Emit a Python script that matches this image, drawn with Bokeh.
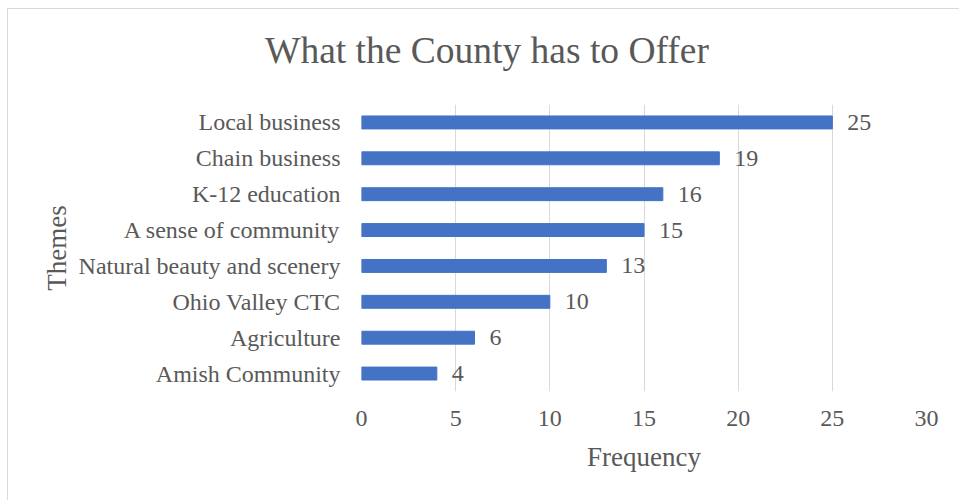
from bokeh.plotting import figure
from bokeh.models import Range1d, FactorRange, ColumnDataSource, LabelSet, FixedTicker, Div
from bokeh.layouts import column
from bokeh.embed import file_html
from bokeh.resources import INLINE

themes = ["Local business", "Chain business", "K-12 education", "A sense of community",
          "Natural beauty and scenery", "Ohio Valley CTC", "Agriculture", "Amish Community"]
frequency = [25, 19, 16, 15, 13, 10, 6, 4]
x_ticks = [0, 5, 10, 15, 20, 25, 30]
title_text = "What the County has to Offer"

FONT = "Liberation Serif"
GRAY = "#595959"

src = ColumnDataSource(dict(theme=themes, freq=frequency, lab=[str(v) for v in frequency]))

title_div = Div(
    text=(f'<div style="margin:0;padding:23px 0 0 257px;font-family:\'{FONT}\';'
          f'font-size:37.5px;line-height:1;color:{GRAY};white-space:nowrap;">{title_text}</div>'),
    width=951, height=70, margin=(0, 0, 0, 0))

p = figure(width=951, height=421, output_backend="svg", toolbar_location=None,
           y_range=FactorRange(factors=list(reversed(themes))),
           x_range=Range1d(0, 30),
           min_border_left=353, min_border_right=33, min_border_top=25, min_border_bottom=109)
p.outline_line_color = None
p.background_fill_color = "white"

p.hbar(y="theme", right="freq", left=0, height=0.36, color="#4472C4", source=src)

labels = LabelSet(x="freq", y="theme", text="lab", source=src, x_offset=15,
                  text_font=FONT, text_font_size="24px", text_color=GRAY,
                  text_baseline="middle", text_align="left")
p.add_layout(labels)

p.xaxis.ticker = FixedTicker(ticks=x_ticks)
p.xaxis.axis_line_color = None
p.xaxis.major_tick_line_color = None
p.xaxis.minor_tick_line_color = None
p.xaxis.major_label_text_font = FONT
p.xaxis.major_label_text_font_size = "24px"
p.xaxis.major_label_text_color = GRAY
p.xaxis.major_label_standoff = 13
p.xaxis.axis_label = "Frequency"
p.xaxis.axis_label_text_font = FONT
p.xaxis.axis_label_text_font_size = "27px"
p.xaxis.axis_label_text_font_style = "normal"
p.xaxis.axis_label_text_color = GRAY
p.xaxis.axis_label_standoff = 13

p.yaxis.axis_line_color = None
p.yaxis.major_tick_line_color = None
p.yaxis.minor_tick_line_color = None
p.yaxis.major_label_text_font = FONT
p.yaxis.major_label_text_font_size = "24px"
p.yaxis.major_label_text_color = GRAY
p.yaxis.major_label_standoff = 15
p.yaxis.axis_label = "Themes"
p.yaxis.axis_label_text_font = FONT
p.yaxis.axis_label_text_font_size = "27px"
p.yaxis.axis_label_text_font_style = "normal"
p.yaxis.axis_label_text_color = GRAY
p.yaxis.axis_label_standoff = 4

p.xgrid.grid_line_color = "#d9d9d9"
p.xgrid.grid_line_width = 1
p.ygrid.grid_line_color = None

layout = column(title_div, p, spacing=0)
layout.styles = {"margin-left": "7px", "margin-top": "8px", "background-color": "white",
                 "border-left": "1px solid #d9d9d9", "border-top": "1px solid #d9d9d9"}

open("out.html", "w").write(file_html(layout, INLINE))
